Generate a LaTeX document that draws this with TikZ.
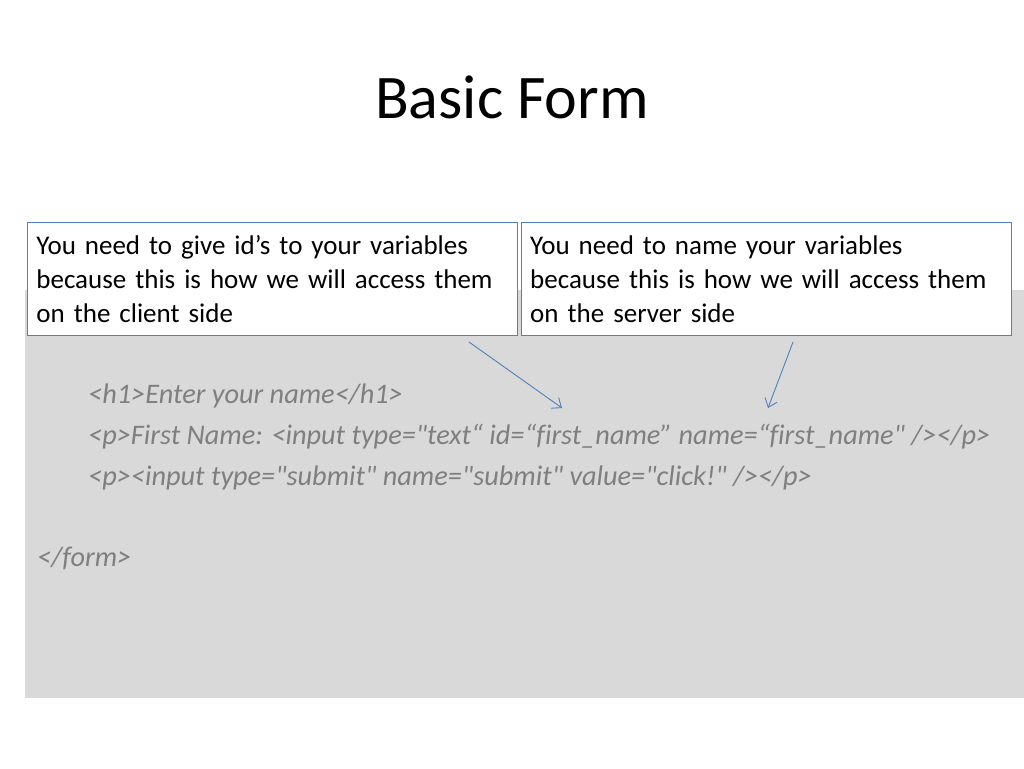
\documentclass[tikz,border=0pt]{standalone}
\usepackage{fontspec}
\setmainfont{Carlito}[Ligatures={TeXOff,NoCommon}]
\usetikzlibrary{positioning,arrows.meta}
\definecolor{noteblue}{RGB}{79,129,189}
\definecolor{codegray}{RGB}{127,127,127}
\definecolor{panelgray}{RGB}{217,217,217}

\begin{document}
\begin{tikzpicture}[x=1pt,y=-1pt,
	note/.style={draw=noteblue,fill=white,line width=0.8pt,align=left,inner xsep=9pt,inner ysep=4pt,
		text width=472pt,minimum height=113pt,font=\fontsize{27}{34}\selectfont},
	code/.style={anchor=base west,text=codegray,inner sep=0pt,font=\fontsize{28.3}{34}\selectfont\itshape},
	pointer/.style={draw=noteblue,line width=0.9pt,-{Straight Barb[length=8pt,width=13pt]}}]
	\useasboundingbox (0,0) rectangle (1024,768);
	% code panel
	\fill[panelgray] (25,290) rectangle (1024,698);
	\node[anchor=base,font=\fontsize{62}{70}\selectfont] (title) at (512,118) {Basic Form};
	\node[code] (h1line) at (88,403) {<h1>Enter your name</h1>};
	\node[code] (textline) at (88,444) {<p>First Name: <input type="text“ id=“first\_name” name=“first\_name" /></p>};
	\node[code] (submitline) at (88,485) {<p><input type="submit" name="submit" value="click!" /></p>};
	\node[code] (formend) at (37,566) {</form>};
	% the two notes
	\node[note,anchor=north west] (idnote) at (27,222) {You need to give id’s to your variables\\because this is how we will access them\\on the client side};
	\node[note,right=3pt of idnote] (namenote) {You need to name your variables\\because this is how we will access them\\on the server side};
	\coordinate (idtail) at (469,342);
	\coordinate (idhead) at (562,408);
	\coordinate (nametail) at (793,342);
	\coordinate (namehead) at (768,408);
	\draw[pointer] (idtail) -- (idhead);
	\draw[pointer] (nametail) -- (namehead);
\end{tikzpicture}
\end{document}
